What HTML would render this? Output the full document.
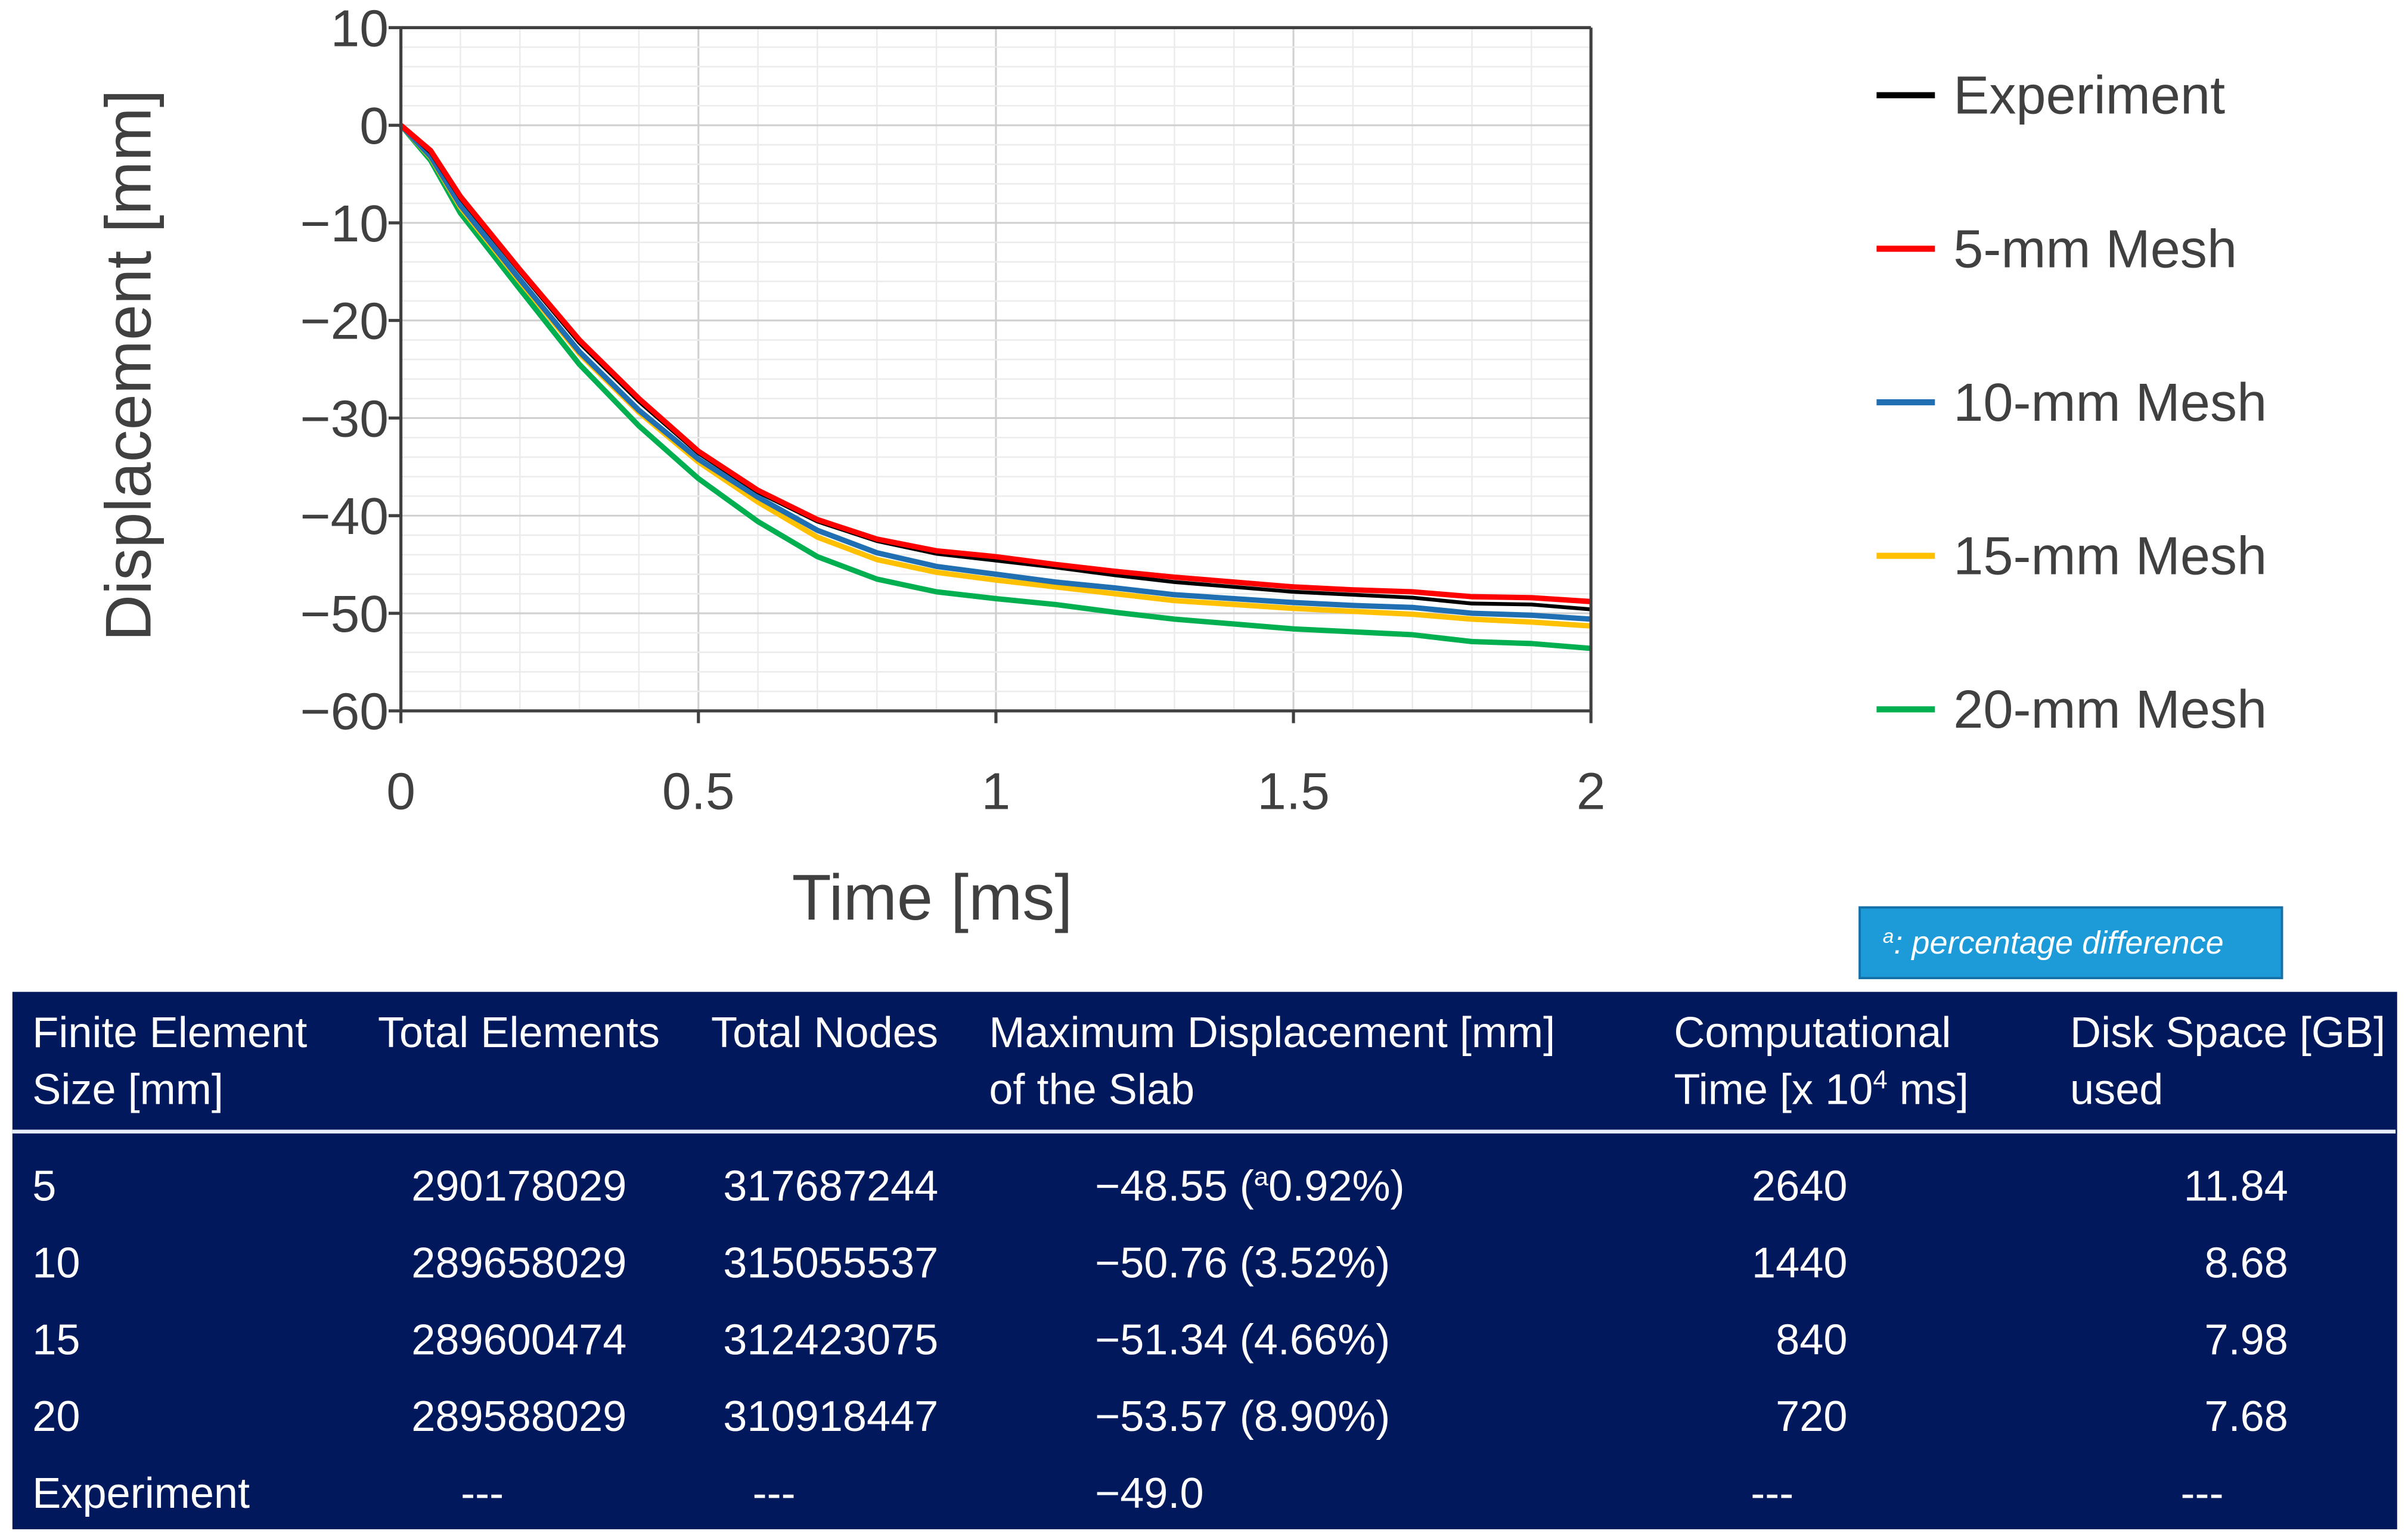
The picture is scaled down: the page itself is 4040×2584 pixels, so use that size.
<!DOCTYPE html>
<html><head><meta charset="utf-8"><style>
html,body{margin:0;padding:0;background:#fff;}
svg{display:block;font-family:"Liberation Sans",sans-serif;}
</style></head><body>
<svg id="chart" width="4040" height="2584" viewBox="0 0 1568 1003" xmlns="http://www.w3.org/2000/svg">
<g id="grid"></g>
<g id="series"></g>
<g id="axes"></g>
<text transform="translate(98,238) rotate(-90)" text-anchor="middle" font-size="42" fill="#404040">Displacement [mm]</text>
<text x="607" y="599" text-anchor="middle" font-size="42" fill="#404040">Time [ms]</text>
<g id="legend"></g>
<rect x="1211" y="591" width="275" height="46" fill="#1d9bd8" stroke="#1670a8" stroke-width="1.5"/>
<text x="1226" y="621" font-size="21" font-style="italic" fill="#fff"><tspan font-size="13" dy="-7">a</tspan><tspan dy="7">: percentage difference</tspan></text>
<g id="table">
<rect x="8" y="646" width="1553" height="350" fill="#02185c"/>
<line x1="8" y1="737" x2="1560" y2="737" stroke="#e8eef8" stroke-width="2.5"/>
<g font-size="28" fill="#fff">
<text x="21" y="682">Finite Element</text>
<text x="21" y="719">Size [mm]</text>
<text x="246" y="682">Total Elements</text>
<text x="463" y="682">Total Nodes</text>
<text x="644" y="682">Maximum Displacement [mm]</text>
<text x="644" y="719">of the Slab</text>
<text x="1090" y="682">Computational</text>
<text x="1090" y="719">Time [x 10<tspan font-size="17" dy="-10">4</tspan><tspan dy="10"> ms]</tspan></text>
<text x="1348" y="682">Disk Space [GB]</text>
<text x="1348" y="719">used</text>
</g>
<g id="rows" font-size="28" fill="#fff"></g>
</g>
</svg>
<script>
const times=[0,0.05,0.1,0.2,0.3,0.4,0.5,0.6,0.7,0.8,0.9,1.0,1.1,1.2,1.3,1.4,1.5,1.6,1.7,1.8,1.9,2.0];
const expData=[0,-2.8,-7.5,-15,-22.3,-28.3,-33.6,-37.6,-40.6,-42.6,-43.9,-44.6,-45.3,-46.1,-46.8,-47.3,-47.8,-48.1,-48.4,-49.0,-49.1,-49.6];
const mesh5=[0,-2.6,-7.3,-14.8,-22,-28,-33.4,-37.4,-40.4,-42.4,-43.6,-44.2,-45,-45.7,-46.3,-46.8,-47.3,-47.6,-47.8,-48.3,-48.4,-48.8];
const mesh10=[0,-3.2,-8.2,-15.8,-23.2,-29.2,-34.2,-38.1,-41.5,-43.8,-45.2,-46,-46.8,-47.4,-48.1,-48.5,-48.9,-49.2,-49.4,-50,-50.2,-50.6];
const mesh15=[0,-3.3,-8.4,-16,-23.4,-29.4,-34.5,-38.6,-42.2,-44.5,-45.8,-46.6,-47.3,-48,-48.7,-49.1,-49.5,-49.8,-50.1,-50.6,-50.9,-51.3];
const mesh20=[0,-3.6,-9,-16.8,-24.5,-30.8,-36.2,-40.6,-44.2,-46.5,-47.8,-48.5,-49.1,-49.9,-50.6,-51.1,-51.6,-51.9,-52.2,-52.9,-53.1,-53.6];
const seriesNames=["Experiment","5-mm Mesh","10-mm Mesh","15-mm Mesh","20-mm Mesh"];
const seriesColors=["#000000","#ff0000","#1f6fb2","#ffc000","#00b050"];
const xTicks=[0,0.5,1,1.5,2];
const xTickLabels=["0","0.5","1","1.5","2"];
const yTicks=[10,0,-10,-20,-30,-40,-50,-60];
const yTickLabels=["10","0","\u221210","\u221220","\u221230","\u221240","\u221250","\u221260"];
const tableRows=[
["5","290178029","317687244","\u221248.55 (<tspan font-size='17' dy='-10'>a</tspan><tspan dy='10'>0.92%)</tspan>","2640","11.84"],
["10","289658029","315055537","\u221250.76 (3.52%)","1440","8.68"],
["15","289600474","312423075","\u221251.34 (4.66%)","840","7.98"],
["20","289588029","310918447","\u221253.57 (8.90%)","720","7.68"],
["Experiment","---","---","\u221249.0","---","---"]];

const X0=261,X1=1036,Y0=18,Y1=463,xMin=0,xMax=2,yMin=-60,yMax=10;
const sx=v=>X0+(v-xMin)/(xMax-xMin)*(X1-X0);
const sy=v=>Y0+(yMax-v)/(yMax-yMin)*(Y1-Y0);
const NS="http://www.w3.org/2000/svg";
function mk(tag,attrs,parent){const e=document.createElementNS(NS,tag);for(const k in attrs)e.setAttribute(k,attrs[k]);parent.appendChild(e);return e;}
const grid=document.getElementById('grid');
for(let v=0;v<=2.0001;v+=0.1){const major=Math.abs(v*2-Math.round(v*2))<1e-6;
 const l=mk('line',{x1:sx(v),x2:sx(v),y1:Y0,y2:Y1,stroke:major?'#d0d0d0':'#ececec','stroke-width':major?1.2:1},grid);
 
 }
for(let v=-60;v<=10;v+=2){const major=v%10===0;
 const l=mk('line',{x1:X0,x2:X1,y1:sy(v),y2:sy(v),stroke:major?'#d0d0d0':'#ececec','stroke-width':major?1.2:1},grid);
 
 }
const axes=document.getElementById('axes');
let a=mk('line',{x1:X0,x2:X0,y1:Y0,y2:Y1,stroke:'#404040','stroke-width':2},axes);


a=mk('line',{x1:X0,x2:X1,y1:Y1,y2:Y1,stroke:'#404040','stroke-width':2},axes);

a=mk('line',{x1:X1,x2:X1,y1:Y0,y2:Y1,stroke:'#404040','stroke-width':2},axes);

a=mk('line',{x1:X0,x2:X1,y1:Y0,y2:Y0,stroke:'#404040','stroke-width':2},axes);

xTicks.forEach((v,i)=>{
 const t=mk('line',{x1:sx(v),x2:sx(v),y1:Y1,y2:Y1+8,stroke:'#404040','stroke-width':2},axes);
 
 
 const tx=mk('text',{x:sx(v),y:527,'text-anchor':'middle','font-size':34,fill:'#404040'},axes);
 tx.textContent=xTickLabels[i];
 
 });
yTicks.forEach((v,i)=>{
 const t=mk('line',{x1:X0-8,x2:X0,y1:sy(v),y2:sy(v),stroke:'#404040','stroke-width':2},axes);
 
 
 const tx=mk('text',{x:253,y:sy(v)+12,'text-anchor':'end','font-size':34,fill:'#404040'},axes);
 tx.textContent=yTickLabels[i];
 
 });
const sg=document.getElementById('series');
const order=[4,3,2,0,1];
const all=[expData,mesh5,mesh10,mesh15,mesh20];
order.forEach(i=>{
 const pts=times.map((t,k)=>sx(t).toFixed(2)+','+sy(all[i][k]).toFixed(2)).join(' ');
 const p=mk('polyline',{points:pts,fill:'none',stroke:seriesColors[i],'stroke-width':i===0?2.5:3.5,'stroke-linejoin':'round'},sg);
 
 });
const lg=document.getElementById('legend');
seriesNames.forEach((n,i)=>{
 const y=62+i*100;
 const l=mk('line',{x1:1222,x2:1260,y1:y,y2:y,stroke:seriesColors[i],'stroke-width':4},lg);
 
 
 const t=mk('text',{x:1272,y:y+12,'font-size':35,fill:'#404040'},lg);
 t.textContent=n;
 
 });
const rows=document.getElementById('rows');
const colX=[21,408,611,713,1203,1490];
const colAnchor=['start','end','end','start','end','end'];
const dashX=[null,314,504,null,1154,1434];
tableRows.forEach((r,ri)=>{
 const y=782+ri*50;
 r.forEach((c,ci)=>{
  let x=colX[ci],anc=colAnchor[ci];
  if(c==='---'){x=dashX[ci];anc='middle';}
  const t=mk('text',{x:x,y:y,'text-anchor':anc},rows);
  t.innerHTML=c;
  
  });});
</script>
</body></html>
